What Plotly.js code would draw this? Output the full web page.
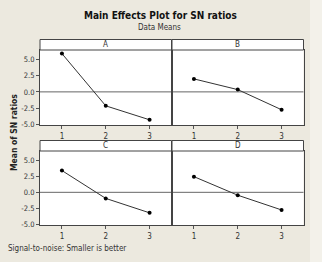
<!DOCTYPE html>
<html><head><meta charset="utf-8">
<script src="https://cdn.plot.ly/plotly-3.0.1.min.js"></script>
<style>html,body{margin:0;padding:0;background:#ece9df;}#chart{width:322px;height:262px;}</style>
</head><body><div id="chart"></div>
<script>
const levels = [1, 2, 3];
const factors = ["A", "B", "C", "D"];
const snA = [5.9, -2.15, -4.3];
const snB = [2.0, 0.35, -2.75];
const snC = [3.4, -0.95, -3.2];
const snD = [2.45, -0.45, -2.75];
const yTicks = [-5.0, -2.5, 0.0, 2.5, 5.0];
const yTickText = ["-5.0", "-2.5", "0.0", "2.5", "5.0"];
const series = [snA, snB, snC, snD];

const W = 322, H = 262;
const colsPx = [[40, 171.5], [172, 303.5]];
const rowsPx = [[50, 125], [151, 225]];
const stripH = 10.5;
const font = "DejaVu Sans Condensed, DejaVu Sans, sans-serif";

const traces = [];
const layout = {
  width: W, height: H, margin: {l:0, r:0, t:0, b:0},
  paper_bgcolor: "#ece9df", plot_bgcolor: "#ffffff",
  showlegend: false,
  font: {family: font, size: 8, color: "#333"},
  shapes: [], annotations: []
};

factors.forEach((f, i) => {
  const r = Math.floor(i / 2), c = i % 2;
  const ax = i === 0 ? "" : String(i + 1);
  const xa = "xaxis" + ax, ya = "yaxis" + ax;
  const xd = [colsPx[c][0] / W, colsPx[c][1] / W];
  const yd = [(H - rowsPx[r][1]) / H, (H - rowsPx[r][0]) / H];
  layout[xa] = {
    domain: xd, anchor: "y" + ax, range: [0.5, 3.5],
    tickvals: levels, ticktext: levels.map(String),
    ticks: "outside", ticklen: 3, tickcolor: "#555", tickwidth: 1,
    showline: true, linecolor: "#444", linewidth: 1, mirror: true,
    showgrid: false, zeroline: false, fixedrange: true,
    tickfont: {family: font, size: 8, color: "#333"}
  };
  layout[ya] = {
    domain: yd, anchor: "x" + ax, range: [-5.1, 6.45],
    tickvals: c === 0 ? yTicks : [], ticktext: yTickText,
    ticks: c === 0 ? "outside" : "", ticklen: 3, tickcolor: "#555",
    showticklabels: c === 0,
    showline: true, linecolor: "#444", linewidth: 1, mirror: true,
    showgrid: false, zeroline: false, fixedrange: true,
    tickfont: {family: font, size: 7.5, color: "#333"}
  };
  traces.push({
    x: levels, y: series[i], xaxis: "x" + ax, yaxis: "y" + ax,
    type: "scatter", mode: "lines+markers",
    line: {color: "#333", width: 1},
    marker: {color: "#000", size: 4}
  });
  layout.shapes.push({
    type: "line", xref: "x" + ax + " domain", yref: "y" + ax,
    x0: 0, x1: 1, y0: 0, y1: 0, line: {color: "#666", width: 1}, layer: "below"
  });
  layout.shapes.push({
    type: "rect", xref: "paper", yref: "paper",
    x0: xd[0], x1: xd[1], y0: yd[1], y1: (H - rowsPx[r][0] + stripH) / H,
    fillcolor: "#ffffff", line: {color: "#444", width: 1}
  });
  layout.annotations.push({
    text: f, xref: "paper", yref: "paper",
    x: (xd[0] + xd[1]) / 2, y: (H - rowsPx[r][0] + stripH / 2) / H,
    showarrow: false, xanchor: "center", yanchor: "middle",
    font: {family: font, size: 8, color: "#333"}
  });
});

layout.shapes.push({
  type: "rect", xref: "paper", yref: "paper", x0: 310 / W, x1: 1, y0: 0, y1: 1,
  fillcolor: "#f3f1ea", line: {width: 0}, layer: "below"
});

layout.annotations.push(
  {text: "<b>Main Effects Plot for SN ratios</b>", xref: "paper", yref: "paper",
   x: 160 / W, y: (H - 16) / H, showarrow: false, xanchor: "center", yanchor: "middle",
   font: {family: font, size: 10, color: "#111"}},
  {text: "Data Means", xref: "paper", yref: "paper",
   x: 159 / W, y: (H - 28) / H, showarrow: false, xanchor: "center", yanchor: "middle",
   font: {family: font, size: 8, color: "#333"}},
  {text: "<b>Mean of SN ratios</b>", xref: "paper", yref: "paper",
   x: 14 / W, y: (H - 133) / H, showarrow: false, xanchor: "center", yanchor: "middle",
   textangle: -90, font: {family: font, size: 8.5, color: "#222"}},
  {text: "Signal-to-noise: Smaller is better", xref: "paper", yref: "paper",
   x: 6 / W, y: (H - 248) / H, showarrow: false, xanchor: "left", yanchor: "middle",
   font: {family: font, size: 8, color: "#333"}}
);

Plotly.newPlot("chart", traces, layout, {staticPlot: true, displayModeBar: false});
</script></body></html>
